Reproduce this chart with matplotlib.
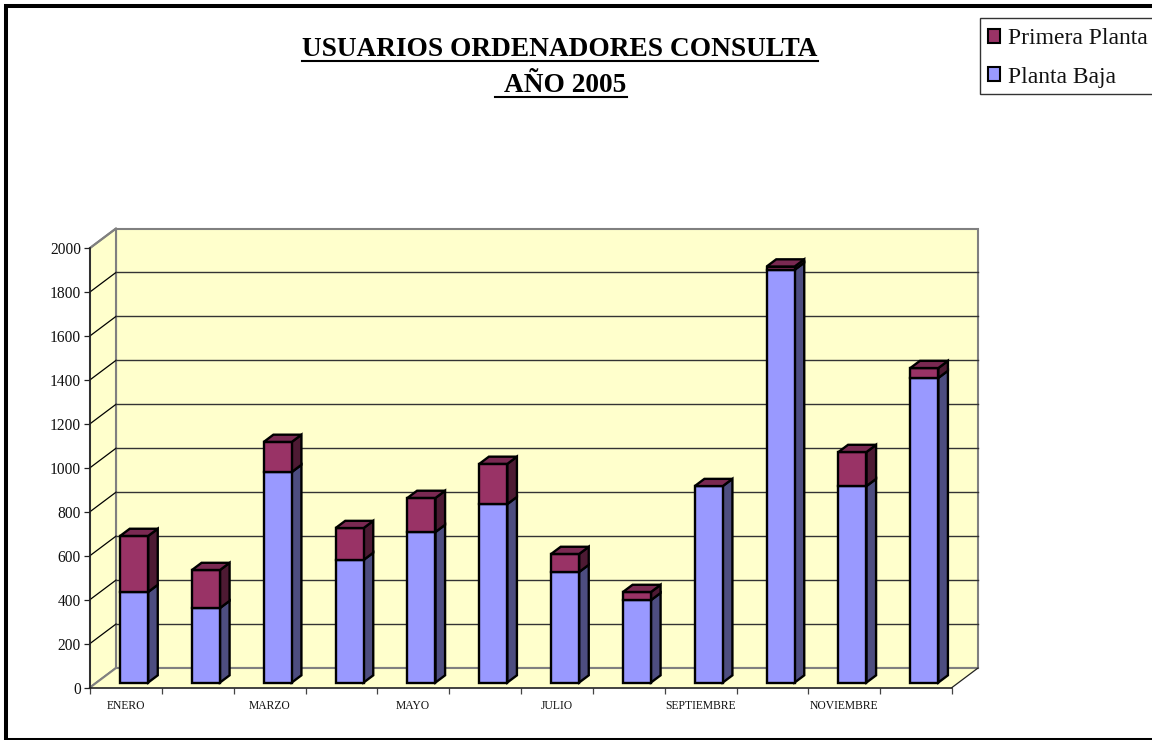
import matplotlib
matplotlib.use("Agg")
import matplotlib.pyplot as plt
from matplotlib.patches import Polygon, Rectangle, Patch
from matplotlib.lines import Line2D

months = ["ENERO", "", "MARZO", "", "MAYO", "", "JULIO", "", "SEPTIEMBRE", "", "NOVIEMBRE", ""]
planta_baja = [412, 339, 958, 558, 685, 812, 503, 375, 894, 1878, 894, 1386]
primera_planta = [255, 173, 137, 145, 155, 183, 82, 37, 0, 15, 155, 45]
y_ticks = list(range(0, 2001, 200))

W, H = 1152, 740
plt.rcParams["font.family"] = ["Liberation Serif", "DejaVu Serif"]
fig = plt.figure(figsize=(W / 100, H / 100), dpi=100, facecolor="white")

L, R, B, T = 90, 952, 687.5, 248
ax = fig.add_axes([L / W, 1 - B / H, (R - L) / W, (B - T) / H])
ax.set_xlim(0, 12)
ax.set_ylim(0, 2000)
ax.patch.set_visible(False)

# depth of the fake 3-D box, in data units
DX = 26 / ((R - L) / 12)
DY = 19.5 / ((B - T) / 2000)


def p(x, y, d=0.0):
    return (x + d * DX, y + d * DY)


def poly(points, fc, ec="black", lw=1.0, z=1):
    ax.add_patch(Polygon(points, closed=True, facecolor=fc, edgecolor=ec,
                         linewidth=lw, zorder=z, clip_on=False, joinstyle="miter"))


WALL = "#FFFFCC"
GREY = "#808080"
# walls and floor
poly([p(0, 0, 1), p(12, 0, 1), p(12, 2000, 1), p(0, 2000, 1)], WALL, GREY, 1.5, 1)
poly([p(0, 0), p(0, 0, 1), p(0, 2000, 1), p(0, 2000)], WALL, GREY, 1.5, 1)
poly([p(0, 0), p(12, 0), p(12, 0, 1), p(0, 0, 1)], WALL, "none", 0, 1)
for a, b, c in [(p(0, 0), p(0, 0, 1), GREY), (p(0, 0, 1), p(12, 0, 1), GREY),
                (p(12, 0), p(12, 0, 1), "#222222")]:
    ax.add_line(Line2D([a[0], b[0]], [a[1], b[1]], color=c,
                       lw=1.5 if c == GREY else 0.9, zorder=1.5, clip_on=False))

# grid on back and left walls
for v in y_ticks[1:-1]:
    a, b, c = p(0, v), p(0, v, 1), p(12, v, 1)
    ax.add_line(Line2D([a[0], b[0]], [a[1], b[1]], color="black", lw=0.9, zorder=1.5, clip_on=False))
    ax.add_line(Line2D([b[0], c[0]], [b[1], c[1]], color="#333333", lw=1.0, zorder=1.5, clip_on=False))
for v in (y_ticks[-1],):
    a, b = p(0, v), p(0, v, 1)
    ax.add_line(Line2D([a[0], b[0]], [a[1], b[1]], color=GREY, lw=1.5, zorder=1.5, clip_on=False))

# bars
C_LOW = ("#9999FF", "#4D4D80")
C_UP = ("#993366", "#4D1A33", "#7A2952")
D0, D1 = 0.256, 0.625
X0, BW = 0.327, 0.39
LW = 1.7
for i, (lo, up) in enumerate(zip(planta_baja, primera_planta)):
    x0, x1 = i + X0, i + X0 + BW
    tot = lo + up
    # lower segment
    poly([p(x1, 0, D0), p(x1, 0, D1), p(x1, lo, D1), p(x1, lo, D0)], C_LOW[1], "black", LW, 3)
    poly([p(x0, 0, D0), p(x1, 0, D0), p(x1, lo, D0), p(x0, lo, D0)], C_LOW[0], "black", LW, 3.2)
    # upper segment
    if up > 0:
        poly([p(x1, lo, D0), p(x1, lo, D1), p(x1, tot, D1), p(x1, tot, D0)], C_UP[1], "black", LW, 3.1)
        poly([p(x0, lo, D0), p(x1, lo, D0), p(x1, tot, D0), p(x0, tot, D0)], C_UP[0], "black", LW, 3.2)
    poly([p(x0, tot, D0), p(x1, tot, D0), p(x1, tot, D1), p(x0, tot, D1)], C_UP[2], "black", LW, 3.3)

# axes, ticks, labels
for s in ("top", "right"):
    ax.spines[s].set_visible(False)
for s in ("left", "bottom"):
    ax.spines[s].set_color("#222222")
    ax.spines[s].set_linewidth(1.2)
    ax.spines[s].set_zorder(2)
ax.set_yticks(y_ticks)
ax.set_yticklabels([str(v) for v in y_ticks], fontsize=11.2, color="#111111")
ax.tick_params(axis="y", length=4.5, width=0.9, pad=2, color="#222222")
ax.set_xticks(range(0, 13))
ax.set_xticklabels([])
ax.tick_params(axis="x", which="major", length=4.5, width=0.9, color="#444444")
ax.set_xticks([i + 0.5 for i in range(12)], minor=True)
ax.set_xticklabels(months, minor=True, fontsize=8.4, color="#111111")
ax.tick_params(axis="x", which="minor", length=0, pad=9.2)

# outer frame, open on the right
fig.add_artist(Rectangle((6 / W, 0), 1.1, 1 - 6 / H, transform=fig.transFigure,
                         facecolor="none", edgecolor="black", linewidth=2.9, zorder=0))

# title with underlines
t1 = fig.text(560 / W, 1 - 56 / H, "USUARIOS ORDENADORES CONSULTA", ha="center", va="baseline",
              fontsize=19.7, fontweight="bold", color="black")
t2 = fig.text(565.5 / W, 1 - 91.5 / H, "AÑO 2005", ha="center", va="baseline",
              fontsize=19.7, fontweight="bold", color="black")
fig.canvas.draw()
r = fig.canvas.get_renderer()
e1, e2 = t1.get_window_extent(r), t2.get_window_extent(r)
fig.add_artist(Line2D([e1.x0 / W, e1.x1 / W], [1 - 61 / H] * 2, color="black", lw=1.5, transform=fig.transFigure))
fig.add_artist(Line2D([(e2.x0 - 9) / W, e2.x1 / W], [1 - 97 / H] * 2, color="black", lw=1.5, transform=fig.transFigure))

# legend: frame drawn apart, so that it can run past the right edge
fig.add_artist(Rectangle((980 / W, 1 - 94 / H), 200 / W, 76 / H, transform=fig.transFigure,
                         facecolor="white", edgecolor="#333333", linewidth=1.0, zorder=1))
FS = 17
px = FS * 100 / 72
handles = [Patch(facecolor=C_UP[0], edgecolor="black", linewidth=1.5),
           Patch(facecolor=C_LOW[0], edgecolor="black", linewidth=1.5)]
leg = fig.legend(handles, ["Primera Planta", "Planta Baja"], loc="upper left",
                 bbox_to_anchor=(988 / W, 1 - 28.5 / H), bbox_transform=fig.transFigure,
                 fontsize=FS, borderaxespad=0, borderpad=0, handlelength=12 / px,
                 handleheight=12 / px, handletextpad=8 / px, labelspacing=0.72,
                 frameon=False, labelcolor="#111111")
leg.set_zorder(2)

fig.savefig("out.png", dpi=100, facecolor="white")
